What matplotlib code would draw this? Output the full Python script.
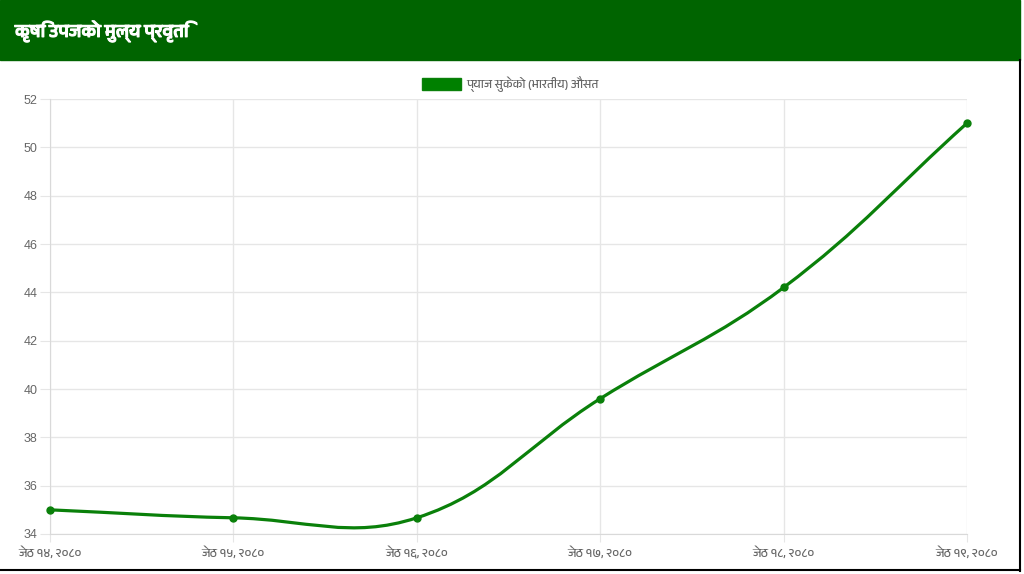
import matplotlib
matplotlib.use('Agg')
import matplotlib.pyplot as plt
import matplotlib.patheffects as pe
from matplotlib import font_manager
from matplotlib.ft2font import FT2Font
from matplotlib.path import Path
from matplotlib.patches import PathPatch, Rectangle
import numpy as np

# Data
title = 'कृषि उपजको मुल्य प्रवृति'
series_label = 'प्याज सुकेको (भारतीय) औसत'
dates = ['जेठ १४, २०८०', 'जेठ १५, २०८०', 'जेठ १६, २०८०',
         'जेठ १७, २०८०', 'जेठ १८, २०८०', 'जेठ १९, २०८०']
prices = [35.0, 34.67, 34.67, 39.6, 44.2, 51.0]
y_ticks = [34, 36, 38, 40, 42, 44, 46, 48, 50, 52]


# find a font that has Devanagari glyphs
def find_font(ch):
    names = []
    for f in font_manager.fontManager.ttflist:
        try:
            if ord(ch) in FT2Font(f.fname).get_charmap():
                names.append(f.name)
        except Exception:
            pass
    names = sorted(set(names), key=lambda n: ('Devanagari' not in n, n))
    return names[0] if names else None


deva = find_font('क')
fams = [deva, 'DejaVu Sans'] if deva else ['DejaVu Sans']
plt.rcParams['font.family'] = fams

W, H = 1024, 574
fig = plt.figure(figsize=(W / 100, H / 100), dpi=100)
fig.patch.set_facecolor('white')

# header bar + black frame
fig.patches.append(Rectangle((0, 1 - 60 / H), 1020 / W, 60 / H, transform=fig.transFigure,
                             color='#006400', zorder=0))
fig.add_artist(plt.Line2D([1020 / W, 1020 / W], [1 - 571 / H, 1 - 60 / H], color='black', lw=1.5,
                          transform=fig.transFigure))
fig.add_artist(plt.Line2D([0, 1020 / W], [1 - 570 / H, 1 - 570 / H], color='black', lw=1.5,
                          transform=fig.transFigure))
fig.text(15 / W, 1 - 31 / H, title, color='white', fontsize=13, fontweight='bold',
         va='center', ha='left',
         path_effects=[pe.withStroke(linewidth=0.9, foreground='white')])

ax = fig.add_axes([50 / W, 1 - 534 / H, 917 / W, 435 / H])
x = np.arange(len(dates))
ax.set_xlim(0, len(dates) - 1)
ax.set_ylim(34, 52)

# smooth line like chart.js (tension 0.4), control points in pixel space
pts = ax.transData.transform(np.column_stack([x, prices]))
t = 0.4
verts = [pts[0]]
codes = [Path.MOVETO]
ctrl = []
for i in range(len(pts)):
    prev = pts[max(i - 1, 0)]
    cur = pts[i]
    nxt = pts[min(i + 1, len(pts) - 1)]
    d01 = np.hypot(*(cur - prev))
    d12 = np.hypot(*(nxt - cur))
    s = d01 + d12
    fa = t * d01 / s if s else 0
    fb = t * d12 / s if s else 0
    ctrl.append((cur - fa * (nxt - prev), cur + fb * (nxt - prev)))
for i in range(1, len(pts)):
    verts += [ctrl[i - 1][1], ctrl[i][0], pts[i]]
    codes += [Path.CURVE4] * 3
verts = ax.transData.inverted().transform(np.array(verts))
ax.add_patch(PathPatch(Path(verts, codes), facecolor='none', edgecolor='#0a800a', lw=2.3,
                       zorder=3, clip_on=False))
ax.plot(x, prices, 'o', color='#0a800a', ms=5, zorder=4, clip_on=False)

ax.set_xticks(x)
ax.set_xticklabels(dates)
ax.set_yticks(y_ticks)
ax.set_yticklabels([str(v) for v in y_ticks], family=['Liberation Sans', 'DejaVu Sans'])
ax.grid(True, color='#e6e6e6', lw=1)
ax.set_axisbelow(True)
for sp in ['top', 'right']:
    ax.spines[sp].set_visible(False)
for sp in ['left', 'bottom']:
    ax.spines[sp].set_color('#d9d9d9')
ax.tick_params(colors='#e6e6e6', labelcolor='#666666', labelsize=9, length=6, pad=3)
ax.tick_params(axis='y', pad=2, length=7)

# legend (chart.js style box)
fig.patches.append(Rectangle((422 / W, 1 - 90 / H), 39 / W, 12 / H, transform=fig.transFigure,
                             facecolor='#008000', edgecolor='#0a800a', lw=1))
fig.text(466 / W, 1 - 84 / H, series_label, color='#666666', fontsize=8.7, va='center', ha='left')

fig.savefig('out.png', dpi=100)
